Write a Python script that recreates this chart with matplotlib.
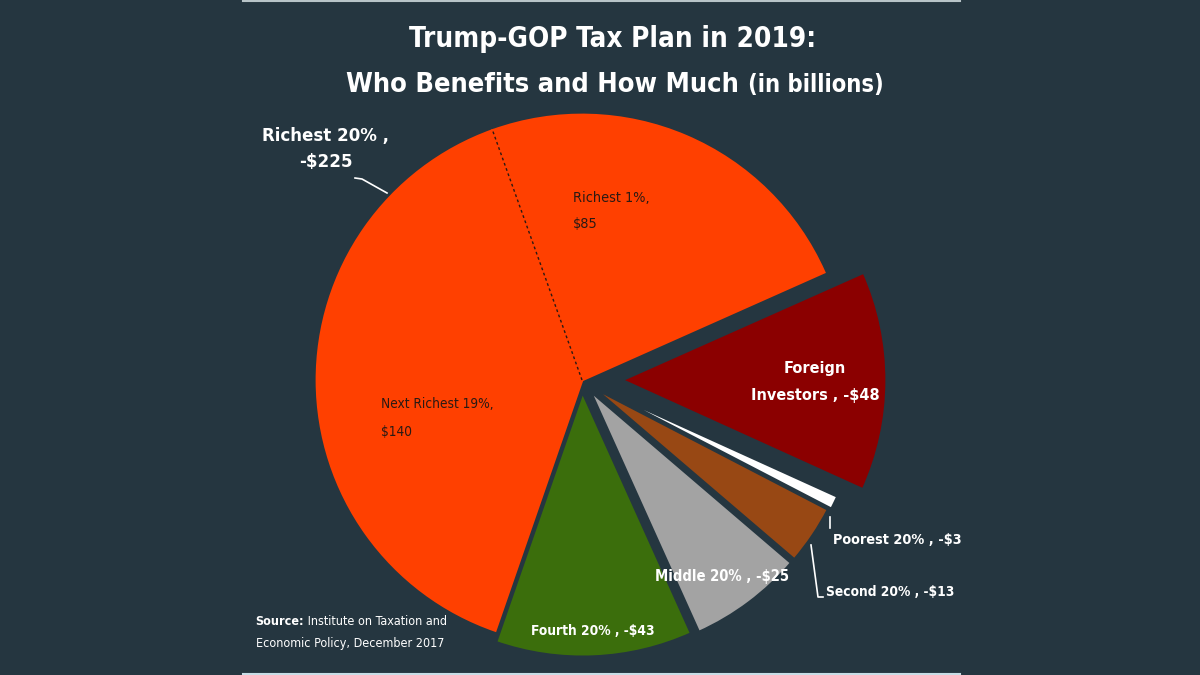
import numpy as np
import matplotlib.pyplot as plt
from matplotlib.lines import Line2D

# slices, counter-clockwise from the top right
names = ["Richest 1%", "Next Richest 19%", "Fourth 20%", "Middle 20%",
         "Second 20%", "Poorest 20%", "Foreign Investors"]
values = [85, 140, 43, 25, 13, 3, 48]
colors = ["#ff4000", "#ff4000", "#3b6e0c", "#a3a3a3", "#984814", "#ffffff", "#8b0000"]
explode = [0, 0, 0.045, 0.05, 0.05, 0.06, 0.15]
richest_total = values[0] + values[1]

bg = "#253640"
plt.rcParams["font.family"] = ["DejaVu Sans"]
plt.rcParams["font.stretch"] = "condensed"

W, H = 1200, 675
CX, CY, R = 582, 380, 265


def px(x, y):
    # image pixel position -> pie data coords
    return (x - CX) / R, (CY - y) / R


fig = plt.figure(figsize=(12, 6.75), dpi=100, facecolor=bg)
ax = fig.add_axes([0, 0, 1, 1])
wedges, _ = ax.pie(values, colors=colors, explode=explode, startangle=24,
                   counterclock=True, radius=1,
                   wedgeprops=dict(edgecolor=bg, linewidth=2))
for w in wedges[:2]:
    w.set_edgecolor(w.get_facecolor())
(x0, y0), (x1, y1) = px(0, H), px(W, 0)
ax.set_xlim(x0, x1)
ax.set_ylim(y0, y1)
ax.set_aspect("equal")
ax.axis("off")

# dotted split inside the richest 20%
a = np.deg2rad(wedges[0].theta2)
ax.plot([0, np.cos(a)], [0, np.sin(a)], color="#2a1a14", lw=1, ls=(0, (2, 2)))

renderer = fig.canvas.get_renderer()


def runs(parts, xc, y):
    # text runs side by side on one baseline, centred on xc (pixel coords)
    texts = [fig.text(0, 1 - y / H, s, va="baseline", ha="left", **kw) for s, kw in parts]
    widths = [t.get_window_extent(renderer).width for t in texts]
    x = xc - sum(widths) / 2
    for t, wd in zip(texts, widths):
        t.set_x(x / W)
        x += wd


def label(x, y, s, size, weight="bold", color="white", ha="center", ls=1.6):
    ax.text(*px(x, y), s, fontsize=size, fontweight=weight, color=color,
            ha=ha, va="center", linespacing=ls)


# title
runs([("Trump-GOP Tax Plan in 2019:", dict(fontsize=20, fontweight="bold", color="white"))], 613, 47)
runs([("Who Benefits and How Much ", dict(fontsize=19.5, fontweight="bold", color="white")),
      ("(in billions)", dict(fontsize=17, fontweight="bold", color="white"))], 615, 92)

# slice labels
label(573, 211, f"{names[0]},\n${values[0]}", 10.4, weight="normal", color="#2a1a14", ha="left", ls=2.1)
label(381, 418, f"{names[1]},\n${values[1]}", 9.8, weight="normal", color="#2a1a14", ha="left", ls=2.2)
label(326, 149, f"Richest 20% ,\n-${richest_total}", 13.3, ls=1.6)
label(815, 382, f"Foreign\nInvestors , -${values[6]}", 11.6, ls=1.95)
label(897, 540, f"{names[5]} , -${values[5]}", 10.4)
label(890, 592, f"{names[4]} , -${values[4]}", 9.9)
label(722, 577, f"{names[3]} , -${values[3]}", 10.6)
label(593, 631, f"{names[2]} , -${values[2]}", 9.9)

# leader lines
for pts in ([(355, 178), (362, 179), (387, 193)],
            [(830, 517), (830, 528)],
            [(811, 545), (818, 597), (823, 597)]):
    xs, ys = zip(*[px(*p) for p in pts])
    ax.plot(xs, ys, color="white", lw=1.2)

# source note
runs([("Source:", dict(fontsize=9, fontweight="bold", color="white")),
      (" Institute on Taxation and", dict(fontsize=9, color="white"))], 351, 625)
runs([("Economic Policy, December 2017", dict(fontsize=9, color="white"))], 350, 647)

# thin rules at the top and bottom edge
fig.add_artist(Line2D([243 / W, 960 / W], [1 - 1 / H] * 2, color="#b8c4c8", lw=1.5))
fig.add_artist(Line2D([243 / W, 960 / W], [1 / H] * 2, color="#c8dde6", lw=1.5))

fig.savefig("out.png", dpi=100, facecolor=bg)
